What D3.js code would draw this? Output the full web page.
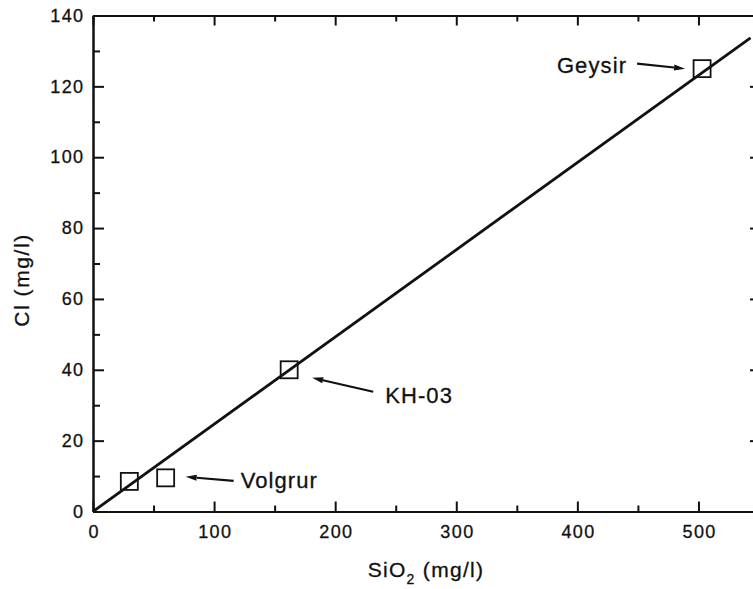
<!DOCTYPE html>
<html>
<head>
<meta charset="utf-8">
<script src="https://cdn.jsdelivr.net/npm/d3@7"></script>
<style>
  html, body { margin: 0; padding: 0; background: #fff; }
  svg { display: block; }
  text { font-family: Arial, "Liberation Sans", Helvetica, sans-serif; fill: #111; stroke: #111; stroke-width: 0.3px; }
</style>
</head>
<body>
<svg id="chart" width="753" height="589"></svg>
<script>
// ---- data ----
const sampleSiO2 = [30, 60, 162, 503];
const sampleCl = [8.5, 9.5, 40, 125];
const fitSiO2 = [0, 543];
const fitCl = [0, 133.7];
const labelNames = ["Volgrur", "KH-03", "Geysir"];
const labelSiO2 = [60, 162, 503];
const labelCl = [9.5, 40, 125];
const xTicks = [0, 100, 200, 300, 400, 500];
const xMinorTicks = [50, 150, 250, 350, 450, 550];
const yTicks = [0, 20, 40, 60, 80, 100, 120, 140];
const yMinorTicks = [10, 30, 50, 70, 90, 110, 130];

// ---- layout ----
const svg = d3.select("#chart");
const mLeft = 93, mRight = 759, mTop = 15.5, mBottom = 511.5;
const x = d3.scaleLinear().domain([0, 550]).range([mLeft, mRight]);
const y = d3.scaleLinear().domain([0, 140]).range([mBottom, mTop]);
const ink = "#111";

function styleAxis(g) {
  g.select(".domain").attr("stroke", ink).attr("stroke-width", 2);
  g.selectAll(".tick line").attr("stroke", ink).attr("stroke-width", 2);
  g.selectAll(".tick text").attr("font-size", 18).attr("fill", ink)
    .attr("letter-spacing", "1.4px")
    .style("font-family", "Arial, 'Liberation Sans', sans-serif");
}

// bottom axis
const gb = svg.append("g").attr("transform", `translate(0,${mBottom})`)
  .call(d3.axisBottom(x).tickValues(xTicks).tickFormat(d3.format("d")).tickSize(-10).tickSizeOuter(0).tickPadding(14));
styleAxis(gb);
gb.selectAll(".tick text").attr("dx", "0.7px");
const gbm = svg.append("g").attr("transform", `translate(0,${mBottom})`)
  .call(d3.axisBottom(x).tickValues(xMinorTicks).tickFormat("").tickSize(-6).tickSizeOuter(0));
styleAxis(gbm);

// top axis
const gt = svg.append("g").attr("transform", `translate(0,${mTop})`)
  .call(d3.axisTop(x).tickValues(xTicks).tickFormat("").tickSize(-10).tickSizeOuter(0));
styleAxis(gt);
const gtm = svg.append("g").attr("transform", `translate(0,${mTop})`)
  .call(d3.axisTop(x).tickValues(xMinorTicks).tickFormat("").tickSize(-6).tickSizeOuter(0));
styleAxis(gtm);

// left axis
const gl = svg.append("g").attr("transform", `translate(${mLeft},0)`)
  .call(d3.axisLeft(y).tickValues(yTicks).tickFormat(d3.format("d")).tickSize(-11).tickSizeOuter(0).tickPadding(8.5));
styleAxis(gl);
const glm = svg.append("g").attr("transform", `translate(${mLeft},0)`)
  .call(d3.axisLeft(y).tickValues(yMinorTicks).tickFormat("").tickSize(-7).tickSizeOuter(0));
styleAxis(glm);

// right axis
const gr = svg.append("g").attr("transform", `translate(${mRight},0)`)
  .call(d3.axisRight(y).tickValues(yTicks).tickFormat("").tickSize(-9).tickSizeOuter(0));
styleAxis(gr);
const grm = svg.append("g").attr("transform", `translate(${mRight},0)`)
  .call(d3.axisRight(y).tickValues(yMinorTicks).tickFormat("").tickSize(-5).tickSizeOuter(0));
styleAxis(grm);

// axis titles
const xt = svg.append("text")
  .attr("x", (mLeft + mRight) / 2).attr("y", 576.5)
  .attr("text-anchor", "middle").attr("font-size", 21).attr("letter-spacing", "1.3px");
xt.append("tspan").text("SiO");
xt.append("tspan").attr("font-size", 14).attr("dy", 7).text("2");
xt.append("tspan").attr("dy", -7).text(" (mg/l)");

svg.append("text")
  .attr("transform", "translate(28.5,280) rotate(-90)")
  .attr("text-anchor", "middle").attr("font-size", 21).attr("letter-spacing", "1.6px")
  .text("Cl (mg/l)");

// fit line
const fit = fitSiO2.map((d, i) => [d, fitCl[i]]);
svg.append("path")
  .attr("d", d3.line().x(d => x(d[0])).y(d => y(d[1]))(fit))
  .attr("fill", "none").attr("stroke", ink).attr("stroke-width", 2.8);

// sample squares
const sq = 17;
svg.append("g").selectAll("rect")
  .data(sampleSiO2.map((d, i) => [d, sampleCl[i]]))
  .join("rect")
  .attr("x", d => x(d[0]) - sq / 2)
  .attr("y", d => y(d[1]) - sq / 2)
  .attr("width", sq).attr("height", sq)
  .attr("fill", "none").attr("stroke", ink).attr("stroke-width", 1.8);

// annotations (arrow tip/tail and label offsets relative to the labelled point)
const annoStyle = {
  "Geysir": { tip: [-17, 0], tail: [-65, -5], text: [-75, 4], anchor: "end" },
  "KH-03":  { tip: [23, 8], tail: [84, 22], text: [96, 33], anchor: "start" },
  "Volgrur": { tip: [20, -1], tail: [68, 3], text: [75, 10], anchor: "start" }
};

function arrowHead(tail, tip, len, halfW) {
  const dx = tip[0] - tail[0], dy = tip[1] - tail[1];
  const L = Math.hypot(dx, dy), ux = dx / L, uy = dy / L;
  const bx = tip[0] - ux * len, by = tip[1] - uy * len;
  return [[tip[0], tip[1]], [bx - uy * halfW, by + ux * halfW], [bx + uy * halfW, by - ux * halfW]];
}

labelNames.forEach((name, i) => {
  const px = x(labelSiO2[i]), py = y(labelCl[i]);
  const s = annoStyle[name];
  const tip = [px + s.tip[0], py + s.tip[1]];
  const tail = [px + s.tail[0], py + s.tail[1]];
  const head = arrowHead(tail, tip, 11, 3);
  const base = [(head[1][0] + head[2][0]) / 2, (head[1][1] + head[2][1]) / 2];
  svg.append("line")
    .attr("x1", tail[0]).attr("y1", tail[1]).attr("x2", base[0]).attr("y2", base[1])
    .attr("stroke", ink).attr("stroke-width", 2.2);
  svg.append("polygon")
    .attr("points", head.map(p => p.join(",")).join(" "))
    .attr("fill", ink);
  svg.append("text")
    .attr("x", px + s.text[0]).attr("y", py + s.text[1])
    .attr("text-anchor", s.anchor).attr("font-size", 22).attr("letter-spacing", "1.1px")
    .text(name);
});
</script>
</body>
</html>
